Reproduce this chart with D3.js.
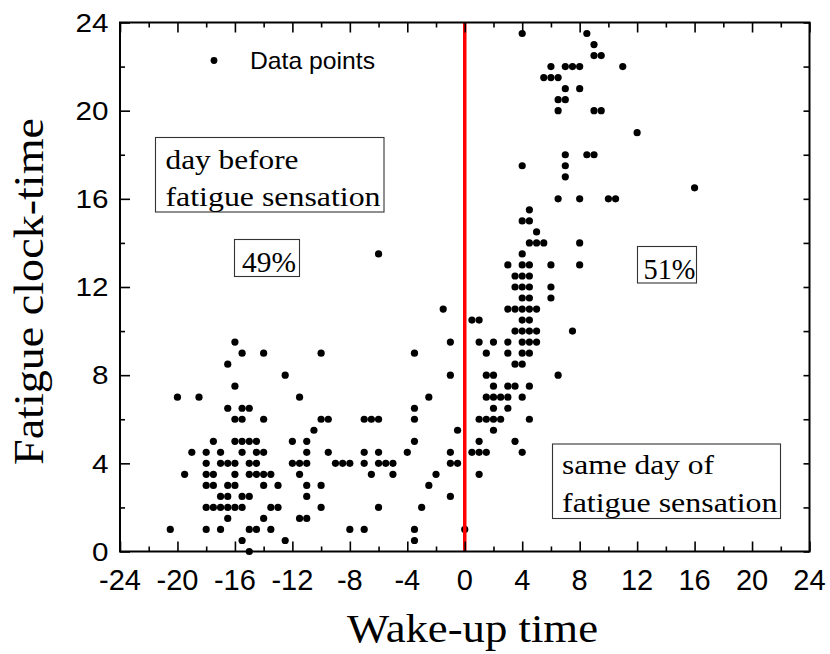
<!DOCTYPE html>
<html>
<head>
<meta charset="utf-8">
<script src="https://cdn.jsdelivr.net/npm/d3@7"></script>
<style>
  html, body { margin: 0; padding: 0; background: #fff; }
  svg { display: block; }
</style>
</head>
<body>
<svg id="chart" width="830" height="654"></svg>
<script>
// ---------- DATA ----------
// [wake-up time, fatigue clock-time]
const dayBeforePoints = [
  [-1.5,11],[-6,13.5],
  [-16,9.5],[-1,9.5],
  [-15.5,9],[-14,9],[-10,9],[-3.5,9],
  [-16.5,8.5],
  [-12.5,8],[-1,8],
  [-16,7.5],
  [-20,7],[-18.5,7],[-11.5,7],[-2.5,7],
  [-16.5,6.5],[-15.5,6.5],[-15,6.5],[-3.5,6.5],
  [-16,6],[-15.5,6],[-14,6],[-10,6],[-9.5,6],[-7,6],[-6.5,6],[-6,6],[-3.5,6],
  [-10.5,5.5],[-0.5,5.5],
  [-17.5,5],[-16,5],[-15.5,5],[-15,5],[-14.5,5],[-12,5],[-11,5],[-3.5,5],
  [-19,4.5],[-18,4.5],[-17,4.5],[-15.5,4.5],[-14.5,4.5],[-14,4.5],[-11,4.5],[-9.5,4.5],[-7,4.5],[-6,4.5],[-4,4.5],[-1,4.5],
  [-18,4],[-17,4],[-16.5,4],[-16,4],[-15,4],[-14.5,4],[-12,4],[-11.5,4],[-11,4],[-9,4],[-8.5,4],[-8,4],[-7,4],[-6,4],[-5.5,4],[-5,4],[-1,4],[-0.5,4],
  [-19.5,3.5],[-18,3.5],[-17.5,3.5],[-16,3.5],[-15,3.5],[-14.5,3.5],[-14,3.5],[-13.5,3.5],[-11.5,3.5],[-6.5,3.5],[-5,3.5],[-2,3.5],
  [-18,3],[-17.5,3],[-16.5,3],[-16,3],[-14,3],[-13,3],[-11,3],[-10,3],[-2.5,3],
  [-17,2.5],[-16.5,2.5],[-15.5,2.5],[-15,2.5],[-11,2.5],[-1,2.5],
  [-18,2],[-17.5,2],[-17,2],[-16.5,2],[-16,2],[-15.5,2],[-13.5,2],[-13,2],[-10,2],[-6,2],[-3,2],
  [-16.5,1.5],[-14,1.5],[-11.5,1.5],[-11,1.5],
  [-20.5,1],[-18,1],[-17,1],[-15,1],[-14.5,1],[-13.5,1],[-8,1],[-7,1],[-3.5,1],
  [-15.5,0.5],[-12.5,0.5],[-3.5,0.5],
  [-15,0]
];
const sameDayPoints = [
  [0,1],
  [1,3.5],
  [0.5,4.5],[1,4.5],[1.5,4.5],[4,4.5],
  [1,5],[3.5,5],
  [2,5.5],
  [1,6],[1.5,6],[2,6],[2.5,6],[4.5,6],
  [2,6.5],[3,6.5],
  [1.5,7],[2,7],[2.5,7],[3,7],[4,7],
  [2,7.5],[3,7.5],[3.5,7.5],[4.5,7.5],
  [1.5,8],[2,8],[6.5,8],
  [3.5,8.5],[4,8.5],
  [1.5,9],[3,9],[4,9],[4.5,9],
  [1,9.5],[2,9.5],[3,9.5],[4,9.5],[4.5,9.5],[5,9.5],
  [3.5,10],[4,10],[4.5,10],[5,10],[7.5,10],
  [0.5,10.5],[1,10.5],[4,10.5],[4.5,10.5],
  [3,11],[3.5,11],[4,11],[4.5,11],[5,11],
  [4,11.5],[4.5,11.5],[6,11.5],
  [3.5,12],[4,12],[4.5,12],[6,12],
  [3.5,12.5],[4,12.5],[4.5,12.5],
  [3,13],[4,13],[4.5,13],[6,13],[8,13],
  [4,13.5],
  [4.5,14],[5,14],[5.5,14],[8,14],
  [5,14.5],
  [4,15],[4.5,15],
  [4.5,15.5],
  [6.5,16],[8,16],[10,16],[10.5,16],
  [16,16.5],
  [7,17],
  [4,17.5],[7,17.5],
  [7,18],[8.5,18],[9,18],
  [12,19],
  [6.5,20],[9,20],[9.5,20],
  [6.5,20.5],[7,20.5],
  [7,21],[8,21],
  [5.5,21.5],[6,21.5],[6.5,21.5],
  [6,22],[7,22],[7.5,22],[8,22],[11,22],
  [9,22.5],[9.5,22.5],
  [9,23],
  [4,23.5],[8.5,23.5]
];
const xDomain = [-24, 24];
const yDomain = [0, 24];
const xTickValues = [-24,-20,-16,-12,-8,-4,0,4,8,12,16,20,24];
const yTickValues = [0,4,8,12,16,20,24];
const xMinorTicks = d3.range(-22, 24, 4);
const yMinorTicks = d3.range(2, 24, 4);
const xTitle = "Wake-up time";
const yTitle = "Fatigue clock-time";
const legendLabel = "Data points";
const boxBeforeLines = ["day before", "fatigue sensation"];
const boxSameLines = ["same day of", "fatigue sensation"];
const pctBefore = "49%";
const pctSame = "51%";

// ---------- LAYOUT ----------
const L = 120, R = 809.5, T = 22.5, B = 551.5;
const x = d3.scaleLinear().domain(xDomain).range([L, R]);
const y = d3.scaleLinear().domain(yDomain).range([B, T]);
const svg = d3.select("#chart");
const sans = "'Liberation Sans', Arial, sans-serif";
const serif = "'Liberation Serif', 'Times New Roman', serif";

// data points
const pts = svg.append("g");
pts.selectAll("circle.b").data(dayBeforePoints).join("circle")
  .attr("class", "b")
  .attr("cx", d => x(d[0])).attr("cy", d => y(d[1])).attr("r", 3.6).attr("fill", "#000");
pts.selectAll("circle.s").data(sameDayPoints).join("circle")
  .attr("class", "s")
  .attr("cx", d => x(d[0])).attr("cy", d => y(d[1])).attr("r", 3.6).attr("fill", "#000");

// red line at 0
svg.append("line")
  .attr("x1", x(0)).attr("x2", x(0)).attr("y1", y(0)).attr("y2", y(24))
  .attr("stroke", "#ff0000").attr("stroke-width", 3.5);

// axes (ticks inward)
const maj = 10, mnr = 5;
const axBottom = d3.axisTop(x).tickValues(xTickValues).tickSize(maj).tickFormat("");
const axBottomMin = d3.axisTop(x).tickValues(xMinorTicks).tickSize(mnr).tickFormat("");
const axTop = d3.axisBottom(x).tickValues(xTickValues).tickSize(maj).tickFormat("");
const axTopMin = d3.axisBottom(x).tickValues(xMinorTicks).tickSize(mnr).tickFormat("");
const axLeft = d3.axisRight(y).tickValues(yTickValues).tickSize(maj).tickFormat("");
const axLeftMin = d3.axisRight(y).tickValues(yMinorTicks).tickSize(mnr).tickFormat("");
const axRight = d3.axisLeft(y).tickValues(yTickValues).tickSize(6).tickFormat("");
const axRightMin = d3.axisLeft(y).tickValues(yMinorTicks).tickSize(6).tickFormat("");

function styleAxis(g) {
  g.select(".domain").remove();
  g.selectAll(".tick line").attr("stroke", "#000").attr("stroke-width", 1.6);
}
svg.append("g").attr("transform", `translate(0,${B})`).call(axBottom).call(styleAxis);
svg.append("g").attr("transform", `translate(0,${B})`).call(axBottomMin).call(styleAxis);
svg.append("g").attr("transform", `translate(0,${T})`).call(axTop).call(styleAxis);
svg.append("g").attr("transform", `translate(0,${T})`).call(axTopMin).call(styleAxis);
svg.append("g").attr("transform", `translate(${L},0)`).call(axLeft).call(styleAxis);
svg.append("g").attr("transform", `translate(${L},0)`).call(axLeftMin).call(styleAxis);
svg.append("g").attr("transform", `translate(${R},0)`).call(axRight).call(styleAxis);
svg.append("g").attr("transform", `translate(${R},0)`).call(axRightMin).call(styleAxis);

// frame
svg.append("rect").attr("x", L).attr("y", T).attr("width", R - L).attr("height", B - T)
  .attr("fill", "none").attr("stroke", "#000").attr("stroke-width", 2);

// tick labels
svg.append("g").selectAll("text").data(xTickValues).join("text")
  .attr("x", d => x(d)).attr("y", 590)
  .attr("text-anchor", "middle").attr("font-family", sans).attr("font-size", 29)
  .attr("fill", "#000").text(d => String(d));
svg.append("g").selectAll("text").data(yTickValues).join("text")
  .attr("x", 108.5).attr("y", d => y(d) + 9.3)
  .attr("text-anchor", "end").attr("font-family", sans).attr("font-size", 26)
  .attr("textLength", d => String(d).length * 16.5).attr("lengthAdjust", "spacingAndGlyphs")
  .attr("fill", "#000").text(d => String(d));

// axis titles
svg.append("text").attr("x", 472.5).attr("y", 642)
  .attr("text-anchor", "middle").attr("font-family", serif).attr("font-size", 41)
  .attr("textLength", 251).attr("lengthAdjust", "spacingAndGlyphs")
  .attr("fill", "#000").text(xTitle);
svg.append("text").attr("transform", "translate(43,291.5) rotate(-90)")
  .attr("text-anchor", "middle").attr("font-family", serif).attr("font-size", 42)
  .attr("textLength", 347).attr("lengthAdjust", "spacingAndGlyphs")
  .attr("fill", "#000").text(yTitle);

// legend
svg.append("circle").attr("cx", 214).attr("cy", 60.5).attr("r", 3.4).attr("fill", "#000");
svg.append("text").attr("x", 250).attr("y", 69).attr("font-family", sans).attr("font-size", 24)
  .attr("textLength", 125).attr("lengthAdjust", "spacingAndGlyphs")
  .attr("fill", "#000").text(legendLabel);

// annotation boxes
function box(x0, y0, w, h) {
  svg.append("rect").attr("x", x0).attr("y", y0).attr("width", w).attr("height", h)
    .attr("fill", "#fff").attr("stroke", "#333").attr("stroke-width", 1.1);
}
function stxt(tx, ty, s, len, fs) {
  svg.append("text").attr("x", tx).attr("y", ty).attr("font-family", serif).attr("font-size", fs)
    .attr("textLength", len).attr("lengthAdjust", "spacingAndGlyphs")
    .attr("fill", "#000").text(s);
}
box(155.5, 137.5, 228.5, 74.5);
stxt(165.5, 168.5, boxBeforeLines[0], 133, 27);
stxt(165.5, 205.5, boxBeforeLines[1], 215, 27);

box(234.5, 239.5, 65, 37);
stxt(242, 272, pctBefore, 54, 30);

box(637.5, 246.5, 59, 36.5);
stxt(643.5, 279, pctSame, 52, 30);

box(552.5, 444, 228, 74.5);
stxt(562, 473.5, boxSameLines[0], 152, 27);
stxt(562, 511.5, boxSameLines[1], 215.5, 27);
</script>
</body>
</html>
